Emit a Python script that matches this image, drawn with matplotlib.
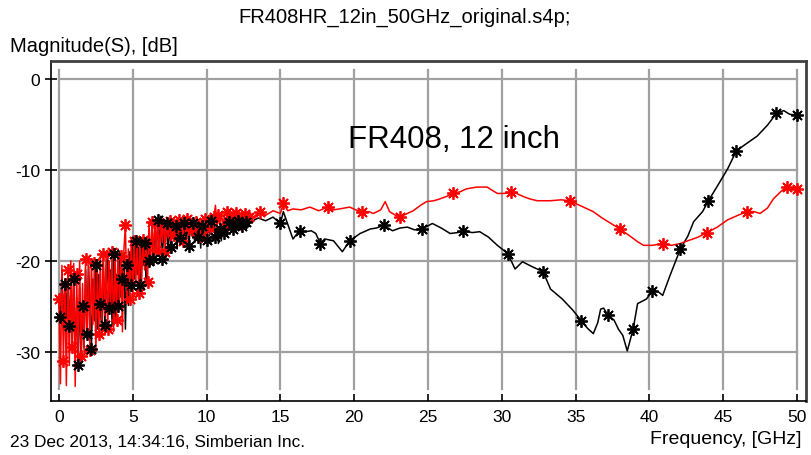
import numpy as np
import matplotlib
matplotlib.use("Agg")
import matplotlib.pyplot as plt

# ---------------- data ----------------
# low-frequency (noisy) region, 0.1 GHz steps
low_freq = [0.0, 0.1, 0.2, 0.3, 0.4, 0.5, 0.6, 0.7, 0.8, 0.9, 1.0, 1.1, 1.2, 1.3, 1.4,
            1.5, 1.6, 1.7, 1.8, 1.9, 2.0, 2.1, 2.2, 2.3, 2.4, 2.5, 2.6, 2.7, 2.8, 2.9,
            3.0, 3.1, 3.2, 3.3, 3.4, 3.5, 3.6, 3.7, 3.8, 3.9, 4.0, 4.1, 4.2, 4.3, 4.4,
            4.5, 4.6, 4.7, 4.8, 4.9, 5.0, 5.1, 5.2, 5.3, 5.4, 5.5, 5.6, 5.7, 5.8, 5.9,
            6.0, 6.1, 6.2, 6.3, 6.4, 6.5, 6.6, 6.7, 6.8, 6.9, 7.0, 7.1, 7.2, 7.3, 7.4,
            7.5, 7.6, 7.7, 7.8, 7.9, 8.0, 8.1, 8.2, 8.3, 8.4, 8.5, 8.6, 8.7, 8.8, 8.9,
            9.0, 9.1, 9.2, 9.3, 9.4, 9.5, 9.6, 9.7, 9.8, 9.9, 10.0, 10.1, 10.2, 10.3,
            10.4, 10.5, 10.6, 10.7, 10.8, 10.9, 11.0, 11.1, 11.2, 11.3, 11.4, 11.5,
            11.6, 11.7, 11.8, 11.9, 12.0, 12.1, 12.2, 12.3, 12.4, 12.5, 12.6, 12.7,
            12.8, 12.9]
black_low = [-24.5, -26.2, -21.0, -27.5, -22.5, -26.0, -21.5,
             -27.2, -23.3, -29.0, -22.0, -30.2, -24.0, -31.5, -23.0, -31.2, -25.0,
             -29.5, -21.0, -28.0, -20.5, -24.7, -29.7, -22.0, -26.6, -20.5, -27.5, -21.5, -24.7,
             -28.0, -20.0, -27.0, -23.2, -19.5, -25.2, -21.0, -27.1, -19.2, -26.5,
             -21.5, -25.0, -19.0, -24.0, -22.0, -19.5, -27.5, -20.5, -24.9, -19.0,
             -22.7, -18.5, -22.0, -17.8, -21.5, -18.5, -22.7, -17.5, -20.5, -18.0, -22.3, -17.6, -20.0, -18.2,
             -17.3, -19.8, -16.0, -19.0, -15.5, -18.5, -15.1, -19.8, -16.5, -18.0, -15.8, -19.0, -16.2,
             -18.5, -15.8, -17.8, -16.2, -18.7, -15.9, -17.5, -16.4, -18.2, -15.8, -17.6, -16.0, -18.4,
             -16.3, -17.2, -15.8, -18.0, -16.5, -17.4, -15.9, -18.6, -16.2, -17.0, -15.8, -17.7, -16.1, -17.2,
             -15.6, -16.8, -16.0, -17.4, -15.8, -18.1, -16.5, -17.8, -15.8, -16.9, -16.0, -17.3, -15.7, -16.4,
             -15.7, -16.5, -15.9, -16.3, -15.6, -16.4, -15.8, -16.2, -15.5, -16.0, -15.7, -16.1, -15.8]
red_low = [-24.2, -33.5, -20.5, -31.0, -22.0, -33.7, -21.0,
           -31.5, -20.0, -29.5, -20.3, -33.8, -21.5, -31.0, -20.0, -30.5, -22.5,
           -30.0, -19.8, -28.5, -20.5, -29.8, -19.8, -27.0, -20.2, -30.0, -21.0, -28.0, -19.5,
           -27.5, -19.2, -26.0, -19.0, -27.5, -20.0, -25.5, -19.0, -27.8, -19.5,
           -26.5, -18.7, -25.0, -19.5, -27.8, -18.8, -16.1, -24.5, -18.7, -24.2,
           -17.6, -24.0, -17.8, -22.8, -17.6, -23.5, -18.0, -22.3, -17.7, -21.0, -18.2, -22.3, -15.7, -20.5,
           -15.7, -19.5, -15.6, -18.8, -15.4, -19.5, -16.0, -18.0, -15.4, -19.0, -15.8, -17.5, -15.6,
           -17.9, -15.8, -17.2, -15.6, -17.6, -15.5, -17.0, -15.9, -17.8, -15.6, -16.8, -15.4, -17.2,
           -15.8, -16.6, -15.5, -17.5, -15.7, -16.9, -15.6, -17.3, -15.9, -16.7, -15.4, -17.0, -15.6, -16.4,
           -15.8, -16.6, -15.2, -13.9, -16.2, -15.0, -16.0, -14.8, -16.3, -15.2, -15.8, -14.6, -16.0, -14.6,
           -15.8, -14.8, -16.2, -14.7, -15.5, -15.0, -16.0, -14.6, -15.4, -14.9, -15.6, -14.7, -15.2]

# smoother high-frequency region
black_freq = [13.0, 13.5, 14.0, 14.5, 15.0, 15.2, 15.5, 15.85, 16.3, 16.7, 17.1, 17.4,
              17.7, 18.0, 18.6, 19.2, 19.7, 20.4, 21.1, 21.5, 22.0, 22.6, 23.1, 23.6,
              24.1, 24.6, 25.3, 25.9, 26.5, 27.0, 27.4, 28.0, 28.5, 29.1, 29.7, 30.4,
              30.9, 31.4, 32.0, 32.8, 33.3, 34.1, 34.8, 35.4, 35.8, 36.2, 36.5, 36.7,
              36.9, 37.2, 37.6, 37.9, 38.2, 38.5, 38.9, 39.2, 39.8, 40.2, 40.6, 40.9,
              41.4, 42.1, 42.6, 43.0, 43.6, 44.0, 44.6, 45.3, 45.9, 46.6, 47.3, 48.0,
              48.6, 49.1, 49.5, 50.0]
black_high = [-15.7, -15.3, -15.6, -15.2, -15.9, -14.6, -16.0, -17.6, -16.7, -16.8, -16.7,
              -17.0, -18.1, -17.6, -17.8, -19.0, -17.8, -17.0, -16.5, -16.4, -16.1, -16.7,
              -16.4, -16.3, -16.6, -16.5, -15.9, -16.4, -17.0, -16.9, -16.7, -16.9, -16.8,
              -17.4, -18.3, -19.2, -20.9, -20.1, -20.6, -21.2, -23.1, -24.2, -25.4, -26.6,
              -27.4, -28.0, -26.8, -25.3, -25.2, -26.0, -26.5, -27.5, -28.2, -29.9, -27.5,
              -24.7, -24.2, -23.3, -23.4, -23.8, -21.6, -18.7, -17.3, -15.7, -14.6, -13.4,
              -11.8, -9.9, -7.9, -7.1, -6.3, -5.1, -3.8, -3.5, -3.9, -4.0]
black_marker_freq = [15.0, 16.3, 17.7, 19.7, 22.0, 24.6, 27.4, 30.4, 32.8, 35.4,
                     37.2, 38.9, 40.2, 42.1, 44.0, 45.9, 48.6, 50.0]

red_freq = [13.0, 13.6, 14.0, 14.5, 15.0, 15.2, 15.5, 15.85, 16.4, 17.0, 17.6, 18.2, 18.6,
            19.0, 19.7, 20.1, 20.5, 21.0, 21.3, 21.8, 22.1, 22.4, 22.8, 23.1, 23.6, 24.0,
            24.5, 24.9, 25.4, 25.8, 26.3, 26.7, 27.2, 27.6, 28.3, 29.0, 29.4, 29.7, 30.2,
            30.6, 31.0, 31.4, 31.9, 32.4, 33.3, 34.0, 34.6, 35.4, 36.2, 36.8, 37.4, 38.0,
            38.7, 39.2, 39.6, 40.2, 40.9, 41.5, 42.1, 42.6, 43.3, 43.9, 44.6, 45.3, 46.0,
            46.6, 47.1, 47.5, 48.0, 48.4, 48.9, 49.3, 49.6, 50.0]
red_high = [-15.4, -14.6, -15.0, -14.5, -14.8, -13.7, -14.5, -14.3, -14.4, -14.1, -14.5,
            -14.1, -14.4, -14.3, -14.1, -14.4, -14.6, -14.6, -14.8, -14.4, -13.5, -14.6,
            -15.0, -15.2, -14.8, -14.5, -13.9, -13.5, -13.4, -13.2, -12.9, -12.6, -12.4,
            -12.1, -11.9, -11.9, -12.3, -12.6, -12.6, -12.4, -12.6, -12.9, -13.2, -13.4,
            -13.4, -13.3, -13.4, -14.0, -14.6, -15.3, -15.9, -16.5, -17.3, -17.9, -18.3,
            -18.3, -18.1, -18.3, -18.1, -17.8, -17.4, -16.9, -16.3, -15.5, -15.0, -14.6,
            -14.6, -14.8, -14.2, -13.2, -12.4, -11.9, -12.0, -12.1]
red_marker_freq = [13.6, 15.2, 18.2, 20.5, 23.1, 26.7, 30.6, 34.6, 38.0, 40.9,
                   43.9, 46.6, 49.3, 50.0]

x_ticks = [0, 5, 10, 15, 20, 25, 30, 35, 40, 45, 50]
y_ticks = [0, -10, -20, -30]

title = "FR408HR_12in_50GHz_original.s4p;"
ylabel = "Magnitude(S), [dB]"
xlabel = "Frequency, [GHz]"
footer = "23 Dec 2013, 14:34:16, Simberian Inc."
annotation = "FR408, 12 inch"

# ---------------- figure ----------------
W, H = 811, 456
fig = plt.figure(figsize=(W / 100, H / 100), dpi=100)
fig.patch.set_facecolor("white")
ax = fig.add_axes([51 / W, 1 - 402 / H, (806 - 51) / W, (402 - 62) / H])
ax.set_xlim(-0.54, 50.61)
ax.set_ylim(-35.4, 1.95)

# grid lines (limited to the data range like the reference)
grid_col = "#a0a0a0"
for xv in x_ticks:
    ax.plot([xv, xv], [-34.1, 1.0], color=grid_col, lw=1.6, zorder=1)
for yv in y_ticks:
    ax.plot([0, 50], [yv, yv], color=grid_col, lw=1.6, zorder=1)

bf = np.array(low_freq + black_freq)
bv = np.array(black_low + black_high)
rf = np.array(low_freq + red_freq)
rv = np.array(red_low + red_high)

n_low = len(low_freq)
b_mk = list(range(1, n_low, 3)) + [n_low + i for i, f in enumerate(black_freq) if f in black_marker_freq]
r_mk = list(range(0, n_low, 3)) + [n_low + i for i, f in enumerate(red_freq) if f in red_marker_freq]

star = (8, 2, 0)
ax.plot(bf, bv, color="black", lw=1.1, zorder=2)
ax.plot(rf, rv, color="#ff0000", lw=1.1, zorder=3)
ax.plot(rf[r_mk], rv[r_mk], ls="none", marker=star, ms=9, mew=1.3, color="#ff0000", zorder=4)
ax.plot(bf[b_mk], bv[b_mk], ls="none", marker=star, ms=9, mew=1.3, color="black", zorder=5)

ax.text(19.55, -6.6, annotation, fontsize=22.5, family="Liberation Sans",
        ha="left", va="center", color="black", zorder=6)

# axes styling
for s in ax.spines.values():
    s.set_color("black")
    s.set_linewidth(1.2)
ax.spines["right"].set_color("#404040")
ax.spines["right"].set_linewidth(2.0)
ax.spines["top"].set_color("#404040")
ax.spines["top"].set_linewidth(2.0)

ax.set_xticks(x_ticks)
ax.set_xticklabels([str(v) for v in x_ticks])
ax.set_yticks(y_ticks)
ax.set_yticklabels([str(v) for v in y_ticks])
ax.tick_params(axis="x", direction="in", length=5, width=1.2, pad=6,
               labelsize=12.5, colors="black")
ax.tick_params(axis="y", direction="inout", length=8, width=1.2, pad=4,
               labelsize=12.5, colors="black")
for lab in ax.get_xticklabels() + ax.get_yticklabels():
    lab.set_family("Liberation Sans")

# texts in figure pixel coordinates
def ft(x, y, s, **kw):
    fig.text(x / W, 1 - y / H, s, **kw)

ft(405, 17, title, ha="center", va="center", fontsize=14.5, family="Liberation Sans")
ft(10, 46, ylabel, ha="left", va="center", fontsize=14.5, family="Liberation Sans")
ft(10, 443, footer, ha="left", va="center", fontsize=12.4, family="Liberation Sans")
ft(801, 440, xlabel, ha="right", va="center", fontsize=14, family="Liberation Sans")

fig.savefig("out.png", dpi=100, facecolor="white")
